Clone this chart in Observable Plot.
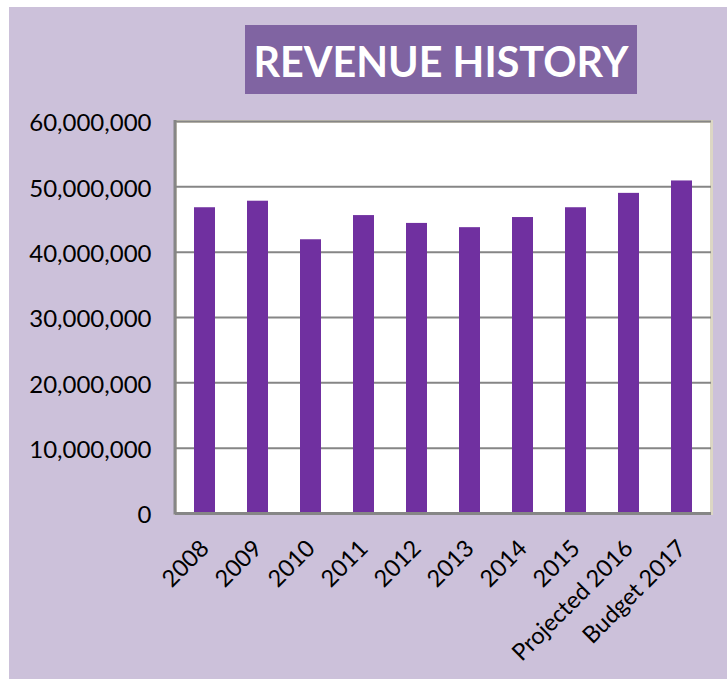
<!DOCTYPE html>
<html>
<head>
<meta charset="utf-8">
<script src="https://cdn.jsdelivr.net/npm/d3@7"></script>
<script src="https://cdn.jsdelivr.net/npm/@observablehq/plot@0.6"></script>
<style>
  body { margin: 0; background: #ffffff; }
  #wrap { position: relative; width: 727px; height: 679px; overflow: hidden; }
  #panel { position: absolute; left: 9px; top: 7px; width: 718px; height: 672px; background: #ccc1da; }
  #title { position: absolute; left: 245px; top: 25px; width: 392px; height: 69px; background: #8064a2; }
  #chart { position: absolute; left: 0; top: 0; }
</style>
</head>
<body>
<div id="wrap">
  <div id="panel"></div>
  <div id="title">
    <svg width="392" height="69">
      <text x="196" y="52" text-anchor="middle" fill="#ffffff" font-family="Lato" font-weight="bold" font-size="42" textLength="375" lengthAdjust="spacingAndGlyphs">REVENUE HISTORY</text>
    </svg>
  </div>
  <div id="chart"></div>
</div>
<script>
const categories = ["2008", "2009", "2010", "2011", "2012", "2013", "2014", "2015", "Projected 2016", "Budget 2017"];
const revenue = [46800000, 47800000, 41900000, 45600000, 44400000, 43750000, 45300000, 46800000, 49000000, 50900000];
const yTicks = [0, 10000000, 20000000, 30000000, 40000000, 50000000, 60000000];

const data = categories.map((c, i) => ({category: c, value: revenue[i]}));

const leftAxisLine = (index, scales, values, dimensions) => {
  const {marginLeft, marginTop, height, marginBottom} = dimensions;
  return d3.create("svg:line")
    .attr("x1", marginLeft).attr("x2", marginLeft)
    .attr("y1", marginTop - 1).attr("y2", height - marginBottom + 1.5)
    .attr("stroke", "#868686").attr("stroke-width", 3)
    .node();
};

const chart = Plot.plot({
  width: 727,
  height: 679,
  marginLeft: 175,
  marginRight: 16,
  marginTop: 121,
  marginBottom: 166,
  style: {background: "transparent", fontFamily: "Lato", color: "#000000", overflow: "visible"},
  x: {domain: categories, paddingInner: 0.6, paddingOuter: 0.3, label: null},
  y: {domain: [0, 60000000], label: null},
  marks: [
    Plot.frame({fill: "#ffffff", stroke: "#dcd7c4", strokeWidth: 3}),
    Plot.gridY(yTicks, {stroke: "#868686", strokeOpacity: 1, strokeWidth: 2}),
    Plot.barY(data, {x: "category", y: "value", fill: "#7030a0"}),
    Plot.ruleY([0], {stroke: "#868686", strokeWidth: 3}),
    leftAxisLine,
    Plot.axisY(yTicks, {tickFormat: d3.format(","), tickSize: 0, tickPadding: 24, fontSize: 24, dy: 2, fill: "#000000", label: null}),
    Plot.axisX({tickRotate: -45, tickSize: 0, tickPadding: 31, fontSize: 23.5, fill: "#000000", label: null})
  ]
});
document.getElementById("chart").appendChild(chart);
</script>
</body>
</html>
